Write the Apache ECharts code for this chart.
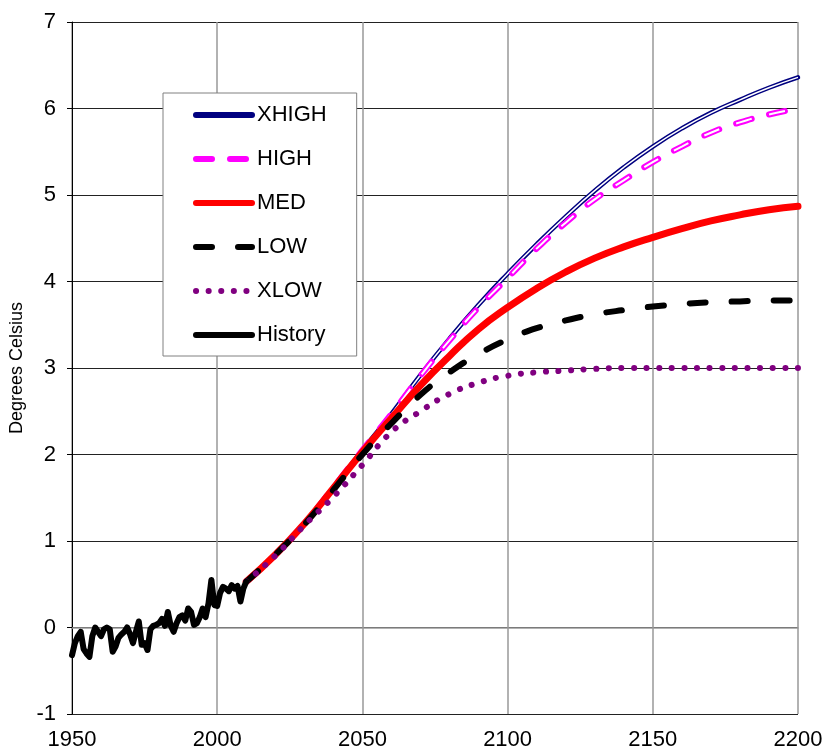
<!DOCTYPE html>
<html>
<head>
<meta charset="utf-8">
<style>
  html, body { margin: 0; padding: 0; background: #fff; }
  #chart { width: 824px; height: 751px; }
</style>
</head>
<body>
<div id="chart"></div>

<script src="https://cdn.jsdelivr.net/npm/echarts@6/dist/echarts.min.js"></script>
<script>
    // historical anomaly, one value per year from 1950
    var histStart = 1950;
    var histTemps = [
        -0.32, -0.18, -0.10, -0.05, -0.25, -0.30, -0.34, -0.10, 0.00, -0.05,
        -0.10, -0.02, 0.00, -0.02, -0.28, -0.22, -0.12, -0.08, -0.05, 0.00,
        -0.08, -0.18, -0.05, 0.07, -0.20, -0.18, -0.26, -0.02, 0.02, 0.03,
        0.05, 0.10, 0.02, 0.18, 0.02, -0.05, 0.05, 0.12, 0.14, 0.08,
        0.22, 0.18, 0.03, 0.05, 0.12, 0.22, 0.12, 0.28, 0.55, 0.26,
        0.25, 0.40, 0.47, 0.45, 0.42, 0.49, 0.45, 0.48, 0.30, 0.45,
        0.53
    ];

    // projections, every 10 years
    var projYears = [2010, 2020, 2030, 2040, 2050, 2060, 2070, 2080, 2090, 2100,
                     2110, 2120, 2130, 2140, 2150, 2160, 2170, 2180, 2190, 2200];
    var xhigh = [0.53, 0.84, 1.20, 1.62, 2.05, 2.47, 2.92, 3.34, 3.73, 4.09,
                 4.43, 4.75, 5.05, 5.32, 5.56, 5.77, 5.95, 6.10, 6.24, 6.36];
    var high  = [0.53, 0.84, 1.20, 1.62, 2.05, 2.47, 2.91, 3.32, 3.70, 4.04,
                 4.38, 4.68, 4.95, 5.17, 5.38, 5.56, 5.72, 5.84, 5.93, 6.00];
    var med   = [0.53, 0.84, 1.20, 1.61, 2.03, 2.42, 2.80, 3.14, 3.45, 3.70,
                 3.92, 4.11, 4.27, 4.40, 4.51, 4.61, 4.70, 4.77, 4.83, 4.87];
    var low   = [0.53, 0.84, 1.19, 1.59, 2.00, 2.36, 2.69, 2.95, 3.16, 3.33,
                 3.46, 3.55, 3.62, 3.67, 3.71, 3.74, 3.76, 3.77, 3.78, 3.78];
    var xlow  = [0.53, 0.83, 1.18, 1.51, 1.88, 2.26, 2.50, 2.70, 2.83, 2.91,
                 2.95, 2.97, 2.99, 3.00, 3.00, 3.00, 3.00, 3.00, 3.00, 3.00];

    var legendNames = ['XHIGH', 'HIGH', 'MED', 'LOW', 'XLOW', 'History'];

    function pairs(years, vals) {
        return vals.map(function (v, i) { return [years[i], v]; });
    }
    var histData = histTemps.map(function (v, i) { return [histStart + i, v]; });

    var font = '"Liberation Sans", Arial, sans-serif';

    function line(name, data, style, z) {
        return {
            name: name,
            type: 'line',
            data: data,
            smooth: true,
            symbol: 'none',
            z: z,
            itemStyle: { color: style.color },
            lineStyle: style
        };
    }

    var myChart = echarts.init(document.getElementById('chart'));

    var option = {
        animation: false,
        backgroundColor: '#fff',
        grid: { left: 72, right: 26, top: 22, bottom: 37, outerBoundsMode: 'none' },
        legend: {
            data: legendNames,
            orient: 'vertical',
            left: 163,
            top: 93,
            padding: [10, 30, 9, 30],
            itemWidth: 56,
            itemHeight: 24,
            itemGap: 20,
            backgroundColor: '#fff',
            borderColor: '#808080',
            borderWidth: 1,
            borderRadius: 0,
            selectedMode: false,
            itemStyle: { opacity: 0 },
            lineStyle: { width: 6 },
            textStyle: { fontFamily: font, fontSize: 22, color: '#000', lineHeight: 24 }
        },
        xAxis: {
            type: 'value',
            min: 1950,
            max: 2200,
            interval: 50,
            axisLine: { show: true, lineStyle: { color: '#999', width: 1.5 } },
            axisTick: { show: false },
            axisLabel: {
                color: '#000', fontFamily: font, fontSize: 22, margin: 15,
                formatter: function (v) { return String(v); }
            },
            splitLine: { show: true, lineStyle: { color: '#999', width: 1.5 } }
        },
        yAxis: {
            type: 'value',
            min: -1,
            max: 7,
            interval: 1,
            name: 'Degrees Celsius',
            nameLocation: 'middle',
            nameGap: 45,
            nameTextStyle: { color: '#000', fontFamily: font, fontSize: 18 },
            axisLine: { show: true, lineStyle: { color: '#000', width: 1 } },
            axisTick: { show: true, length: 5, lineStyle: { color: '#000' } },
            axisLabel: { color: '#000', fontFamily: font, fontSize: 22, margin: 16 },
            splitLine: { show: true, lineStyle: { color: '#222', width: 1 } }
        },
        series: [
            line('XHIGH', pairs(projYears, xhigh), { color: '#000080', width: 4.5, cap: 'round' }, 2),
            line('XHIGH core', pairs(projYears, xhigh), { color: '#fff', width: 1.5 }, 2),
            line('HIGH', pairs(projYears, high), { color: '#ff00ff', width: 6, type: [16, 18], cap: 'round' }, 3),
            line('HIGH core', pairs(projYears, high), { color: '#fff', width: 2, type: [16, 18], cap: 'butt' }, 3),
            line('MED', pairs(projYears, med), { color: '#ff0000', width: 7, cap: 'round' }, 4),
            line('LOW', pairs(projYears, low), { color: '#000', width: 6, type: [16, 26], cap: 'round' }, 5),
            line('XLOW', pairs(projYears, xlow), { color: '#800080', width: 6, type: [0.1, 12.5], cap: 'round' }, 6),
            {
                name: 'History',
                type: 'line',
                data: histData,
                symbol: 'none',
                z: 7,
                itemStyle: { color: '#000' },
                lineStyle: { color: '#000', width: 6, join: 'round', cap: 'round' }
            }
        ]
    };

    myChart.setOption(option);
</script>
</body>
</html>
